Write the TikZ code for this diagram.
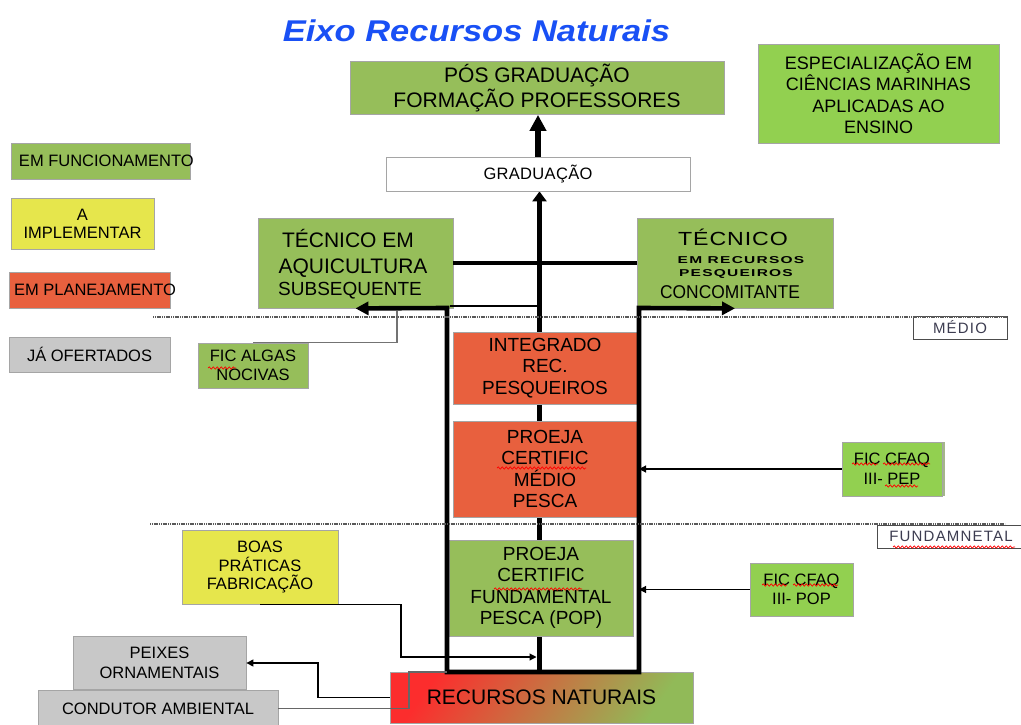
\documentclass[tikz,border=0pt]{standalone}
\usepackage{fontspec}
\usepackage{graphicx}
\setmainfont{Liberation Sans}
\usetikzlibrary{arrows.meta,shadows,calc,decorations.pathmorphing}
\pgfdeclarelayer{bg}
\pgfsetlayers{bg,main}
\definecolor{olv}{RGB}{150,190,90}
\definecolor{lime}{RGB}{146,208,80}
\definecolor{redor}{RGB}{232,96,62}
\definecolor{yel}{RGB}{230,230,76}
\definecolor{gry}{RGB}{200,200,200}
\definecolor{bord}{RGB}{165,165,165}
\definecolor{tblue}{RGB}{25,80,245}
\definecolor{rnred}{RGB}{252,45,45}
\definecolor{rnmid}{RGB}{222,125,70}
\definecolor{rngrn}{RGB}{145,186,88}
\definecolor{lbl}{RGB}{60,60,80}
\newcommand{\fsz}[2]{\fontsize{#1}{#2}\selectfont}
\begin{document}
\begin{tikzpicture}[x=1pt,y=-1pt,
  box/.style={draw=bord, line width=0.8pt, inner sep=0pt, align=center, text=black},
  lab/.style={draw=black!70, fill=white, line width=0.8pt, inner sep=0pt, text=lbl},
  ttx/.style={anchor=base, inner sep=0pt},
  thk/.style={line width=4.6pt},
  thn/.style={line width=1.1pt},
  sarr/.style={-{Triangle[width=7pt,length=7pt]}},
  sq/.style={red, line width=0.7pt, decorate, decoration={snake, amplitude=1.2pt, segment length=4pt}},
  dotln/.style={line width=1.8pt, black!65, dash pattern=on 1.2pt off 0.6pt}]
\useasboundingbox (0,0) rectangle (1021,725);

% title
\node[inner sep=0pt, text=tblue, font=\fsz{30}{34}\bfseries\itshape] (title) at (476.5,30.5) {\scalebox{1.15}[1]{Eixo Recursos Naturais}};

% main boxes
\node[box, fill=olv, minimum width=374pt, minimum height=53pt, font=\fsz{21}{25}] (pos) at (537,88) {PÓS GRADUAÇÃO\\FORMAÇÃO PROFESSORES};
\node[box, fill=white, minimum width=304pt, minimum height=34pt, font=\fsz{16.5}{18}\addfontfeature{LetterSpace=2}] (grad) at (538,174) {GRADUAÇÃO};
\node[box, fill=lime, minimum width=241pt, minimum height=99pt, font=\fsz{18}{21.5}] (esp) at (878.5,93.5) {ESPECIALIZAÇÃO EM\\CIÊNCIAS MARINHAS\\APLICADAS AO\\ENSINO};

\node[box, fill=olv, minimum width=195pt, minimum height=90pt] (tecA) at (355.5,263) {};
\node[ttx, font=\fsz{21}{24}] (tA1) at (348,247) {TÉCNICO EM};
\node[ttx, font=\fsz{21}{24}] (tA2) at (353,273) {AQUICULTURA};
\node[ttx, font=\fsz{19}{22}] (tA3) at (350,295) {SUBSEQUENTE};

\node[box, fill=olv, minimum width=196pt, minimum height=90pt] (tecR) at (735,263) {};
\node[ttx, font=\fsz{19}{22}] (tR1) at (733,245) {\scalebox{1.22}[1]{\addfontfeature{LetterSpace=4}TÉCNICO}};
\node[ttx, font=\fsz{10}{12}\bfseries] (tR2) at (741,263) {\scalebox{1.55}[1]{\addfontfeature{LetterSpace=8}EM RECURSOS}};
\node[ttx, font=\fsz{10}{12}\bfseries] (tR3) at (736,276) {\scalebox{1.55}[1]{\addfontfeature{LetterSpace=8}PESQUEIROS}};
\node[ttx, font=\fsz{18.5}{22}] (tR4) at (730,298) {\scalebox{0.94}[1]{CONCOMITANTE}};

\node[box, fill=redor, minimum width=184pt, minimum height=72pt, font=\fsz{19}{21.5}] (integ) at (545,368) {INTEGRADO\\REC.\\PESQUEIROS};
\node[box, fill=redor, minimum width=184pt, minimum height=96pt, font=\fsz{19}{21.5}] (projM) at (545,469) {PROEJA\\CERTIFIC\\MÉDIO\\PESCA};
\node[box, fill=olv, minimum width=184pt, minimum height=96pt, font=\fsz{19}{21.5}] (projF) at (541,588) {PROEJA\\CERTIFIC\\FUNDAMENTAL\\PESCA (POP)};
\node[box, top color=rnred, middle color=rnmid, bottom color=rngrn, shading angle=55, minimum width=303pt, minimum height=51pt, font=\fsz{21}{24}] (recn) at (541.5,697.5) {RECURSOS NATURAIS};

% side boxes
\node[box, fill=olv, minimum width=110pt, minimum height=45pt, font=\fsz{16.5}{19}] (ficA) at (253,365.5) {FIC ALGAS\\NOCIVAS};
\node[box, fill=lime, minimum width=100pt, minimum height=54pt, font=\fsz{16.5}{20},
  drop shadow={shadow xshift=3pt, shadow yshift=0pt, fill=olv!70!black, opacity=0.6}] (ficP) at (892,469) {FIC CFAQ\\III- PEP};
\node[box, fill=lime, minimum width=103pt, minimum height=53pt, font=\fsz{16.5}{18.5}] (ficO) at (801.5,589.5) {FIC CFAQ\\III- POP};
\node[box, fill=yel, minimum width=156pt, minimum height=74pt, font=\fsz{16.5}{18.5}] (boas) at (260,567) {BOAS\\PRÁTICAS\\FABRICAÇÃO};
\node[box, fill=gry, minimum width=173pt, minimum height=53pt, font=\fsz{16.5}{20}] (peix) at (159.5,662.5) {PEIXES\\ORNAMENTAIS};
\node[box, fill=gry, minimum width=240pt, minimum height=37pt, font=\fsz{16.5}{20}] (cond) at (158,708.5) {CONDUTOR AMBIENTAL};

% legend
\node[box, fill=olv, minimum width=179pt, minimum height=36pt, inner xsep=8pt, font=\fsz{16.5}{18}] (leg1) at (100.5,161) {\makebox[163pt][l]{EM FUNCIONAMENTO}};
\node[box, fill=yel, minimum width=143pt, minimum height=51pt, font=\fsz{16.5}{18}] (leg2) at (82.5,224) {A\\IMPLEMENTAR};
\node[box, fill=redor, minimum width=161pt, minimum height=36pt, inner xsep=5pt, font=\fsz{16.5}{18}] (leg3) at (89.5,290) {\makebox[151pt][l]{EM PLANEJAMENTO}};
\node[box, fill=gry, minimum width=161pt, minimum height=35pt, font=\fsz{16.5}{18}] (leg4) at (89.5,354.5) {JÁ OFERTADOS};

% level labels
\node[lab, minimum width=94pt, minimum height=23pt, font=\fsz{15}{17}\addfontfeature{LetterSpace=8}] (medio) at (960,327.5) {MÉDIO};
\node[lab, minimum width=148pt, minimum height=23pt, font=\fsz{15}{17}\addfontfeature{LetterSpace=8}] (fundl) at (951,536.5) {FUNDAMNETAL};

% coordinates
\coordinate (tl) at (447,308);
\coordinate (bl) at (447,672);
\coordinate (br) at (639,672);
\coordinate (tr) at (639,308);
\coordinate (t1) at (450,306);
\coordinate (t2) at (539,306);
\coordinate (fa) at (397,310.5);
\coordinate (bb) at (401,657);
\coordinate (pk) at (318,663);
\coordinate (ck) at (409,672);
\coordinate (d1) at (153,317);
\coordinate (d2) at (150,524);
\coordinate (d2e) at (1005,524);

% background and central line (under boxes)
\begin{pgfonlayer}{bg}
\fill[white] (0,0) rectangle (1021,725);
\draw[line width=4.4pt, -{Triangle[width=14pt,length=10pt]}] ([xshift=1.5pt]grad.south |- bl) -- ([xshift=1.5pt]grad.south);
\end{pgfonlayer}

% connectors
\draw[line width=5.5pt, -{Triangle[width=16pt,length=16pt]}] (grad.north) -- (grad.north |- pos.south);
\draw[thk, line join=miter, {Triangle[width=13pt,length=13pt]}-{Triangle[width=13pt,length=13pt]}] (tecA.south) -- (tl) -- (bl) -- (br) -- (tr) -- (tecR.south);
\draw[line width=3.4pt] (tecA.east) -- (tecR.west);
\draw[thn] (t1) -- (t2);
\draw[thn, black!55] (ficA.north) -| (fa);
\draw[thn, sarr] (ficP.west) -- (ficP.west -| tr);
\draw[thn, sarr] (ficO.west) -- (ficO.west -| tr);
\draw[thn, sarr, shorten >=1.5pt] (boas.south) -| (bb) -- (bb -| grad.south);
\draw[thn, sarr] (recn.west) -| (pk) -- (pk -| peix.east);
\draw[thn, black!60] (cond.east) -| (ck) -- (bl);

% level lines
\draw[dotln] (d1) -- (d1 -| medio.east);
\draw[dotln] (d2) -- (d2e);

% spell-check marks
\draw[sq] (208,368) -- (236,368);
\draw[sq] (497,468) -- (586,468);
\draw[sq] (494,589) -- (582,589);
\draw[sq] (852,464) -- (878,464);
\draw[sq] (883,464) -- (930,464);
\draw[sq] (885,486) -- (918,486);
\draw[sq] (762,585) -- (787,585);
\draw[sq] (793,585) -- (838,585);
\draw[sq] (893,547) -- (1015,547);
\end{tikzpicture}
\end{document}
